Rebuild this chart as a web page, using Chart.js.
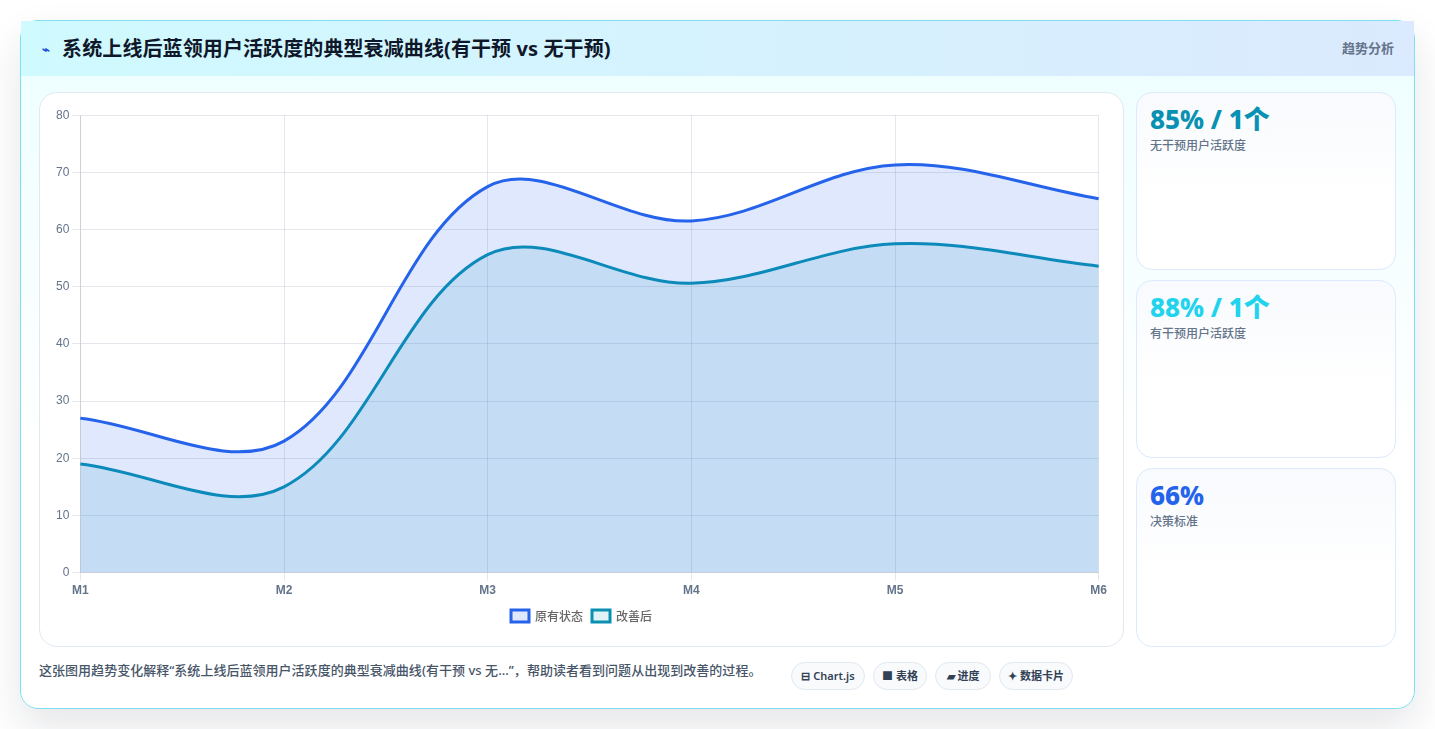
<!DOCTYPE html>
<html lang="zh">
<head>
<meta charset="utf-8">
<title>系统上线后蓝领用户活跃度的典型衰减曲线</title>
<script src="https://cdn.jsdelivr.net/npm/chart.js@4"></script>
<style>
* { box-sizing: border-box; }
html, body { margin: 0; height: 729px; background: #fff; overflow: hidden; }
body { font-family: "Noto Sans", "Noto Sans CJK SC", sans-serif; }
.card {
    position: absolute; left: 20px; top: 20px; width: 1395px; height: 689px;
    border: 1px solid #7fdfee; border-radius: 18px;
    background: linear-gradient(180deg, #ecfeff 0%, #ffffff 62%);
    box-shadow: 0 18px 40px rgba(15, 23, 42, 0.11);
}
.head {
    height: 55px; padding: 0 20px 0 21px; display: flex; align-items: center; justify-content: space-between;
    background: linear-gradient(90deg, #cffafe, #dbeafe);
}
.head h1 { margin: 0; font-size: 20px; font-weight: 700; color: #0f172a; line-height: 1; letter-spacing: 0.1px; }
.head h1 i { font-style: normal; color: #1d4ed8; font-size: 13px; margin-right: 12px; vertical-align: 2px; }
.head span { font-size: 13px; font-weight: 600; color: #64748b; margin-top: -2px; }
.chart-box {
    position: absolute; left: 18px; top: 71px; width: 1085px; height: 555px;
    border: 1px solid #e2e8f0; border-radius: 18px; background: #fff; padding: 12px 0 0 13px;
}
.chart-box canvas { display: block; }
.stat {
    position: absolute; left: 1115px; width: 260px; padding: 10px 13px;
    border: 1px solid #dbeafe; border-radius: 16px;
    background: linear-gradient(180deg, #f8fafd, #ffffff 60%);
}
.stat b { display: block; font-size: 26px; line-height: 33px; font-weight: 800; }
.stat span { display: block; font-size: 12px; line-height: 18px; margin-top: 1px; color: #64748b; font-weight: 500; }
.note { position: absolute; left: 18px; top: 639px; font-size: 13px; line-height: 20px; font-weight: 500; color: #475569; white-space: nowrap; letter-spacing: 0.03px; }
.chips { position: absolute; left: 770px; top: 641px; display: flex; gap: 8px; }
.chips span {
    height: 28px; line-height: 25px; text-align: center; border: 1px solid #e2e8f0; border-radius: 14px;
    background: #f8fafc; font-size: 11px; font-weight: 600; color: #334155; white-space: nowrap;
}
</style>
</head>
<body>
<div class="card">
    <div class="head">
        <h1><i>⌁</i>系统上线后蓝领用户活跃度的典型衰减曲线(有干预 vs 无干预)</h1>
        <span>趋势分析</span>
    </div>
    <div class="chart-box"><canvas id="trend" width="1057" height="527" style="width:1057px;height:527px"></canvas></div>
    <div class="stat" style="top:71px;height:178px"><b style="color:#0891b2">85% / 1个</b><span>无干预用户活跃度</span></div>
    <div class="stat" style="top:259px;height:178px"><b style="color:#22d3ee">88% / 1个</b><span>有干预用户活跃度</span></div>
    <div class="stat" style="top:447px;height:179px"><b style="color:#2563eb">66%</b><span>决策标准</span></div>
    <div class="note">这张图用趋势变化解释“系统上线后蓝领用户活跃度的典型衰减曲线(有干预 vs 无...”，帮助读者看到问题从出现到改善的过程。</div>
    <div class="chips">
        <span style="width:74px">⊟ Chart.js</span>
        <span style="width:54px">■ 表格</span>
        <span style="width:56px">▰ 进度</span>
        <span style="width:74px">✦ 数据卡片</span>
    </div>
</div>
<script>
const months = ['M1', 'M2', 'M3', 'M4', 'M5', 'M6'];
const originalValues = [27, 23, 67.5, 61.5, 71.3, 65.4];
const improvedValues = [19, 15, 55.6, 50.6, 57.5, 53.6];

Chart.defaults.font.family = '"Liberation Sans", "Noto Sans CJK SC", sans-serif';

new Chart(document.getElementById('trend'), {
    type: 'line',
    data: {
        labels: months,
        datasets: [
            {
                label: '原有状态',
                data: originalValues,
                borderColor: '#2563eb',
                backgroundColor: 'rgba(37, 99, 235, 0.15)',
                borderWidth: 3,
                fill: true,
                tension: 0.35,
                pointRadius: 0
            },
            {
                label: '改善后',
                data: improvedValues,
                borderColor: '#0891b2',
                backgroundColor: 'rgba(8, 145, 178, 0.12)',
                borderWidth: 3,
                fill: true,
                tension: 0.35,
                pointRadius: 0
            }
        ]
    },
    options: {
        responsive: false,
        animation: false,
        plugins: {
            legend: {
                position: 'bottom',
                labels: {
                    boxWidth: 18,
                    boxHeight: 12,
                    padding: 9,
                    font: { size: 12, family: '"Noto Sans CJK SC", sans-serif', weight: '500' }
                }
            }
        },
        scales: {
            x: {
                grid: { color: 'rgba(148, 163, 184, 0.25)' },
                ticks: { color: '#64748b', font: { size: 12, weight: '700' } }
            },
            y: {
                beginAtZero: true,
                min: 0,
                max: 80,
                grid: { color: 'rgba(148, 163, 184, 0.25)' },
                ticks: { color: '#64748b', stepSize: 10, font: { size: 12 } }
            }
        }
    }
});
</script>
</body>
</html>
